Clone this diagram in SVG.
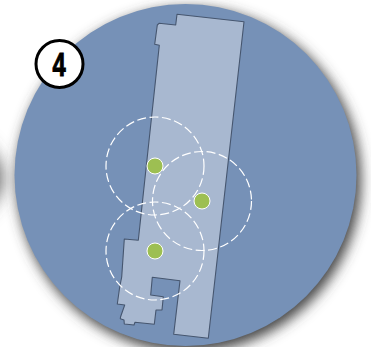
<svg xmlns="http://www.w3.org/2000/svg" width="371" height="347" viewBox="0 0 371 347">
<style>
.range{fill:none;stroke:#fff;stroke-width:1.2;stroke-dasharray:9 3.500}
.dot{fill:#9dbf52;stroke:#fff;stroke-width:1}
</style>
<defs>
<filter id="blur" x="-20%" y="-20%" width="140%" height="140%"><feGaussianBlur stdDeviation="6.500"/></filter>
<filter id="blur2" x="-100%" y="-30%" width="300%" height="160%"><feGaussianBlur stdDeviation="9"/></filter>
</defs>
<rect width="371" height="347" fill="#fff"/>
<ellipse cx="-165" cy="178" rx="167" ry="72" fill="#555" filter="url(#blur2)"/>
<circle cx="189" cy="180" r="172" fill="#444" filter="url(#blur)"/>
<circle cx="185.500" cy="175" r="171" fill="#7691b7"/>
<path d="M177 14.300L244 21.700L208.300 338.300L173.700 334.300L180 280.700L152.300 277.300L150.700 295L163.300 296.700L162 310L156 310L154.300 324.300L135 322.300L134 325L124.300 324L124 320L120.300 318.700L120.500 317L124.700 305L117.300 304L119.700 287L121.700 277L124.300 239L138.300 240.300L159.300 45.300L154.700 44.300L157.300 25L159 23.300L175.700 25Z" fill="#a8b8d0" stroke="#46566f" stroke-width="1.100" stroke-linejoin="round"/>
<circle class="range" cx="155" cy="166" r="49"/>
<circle class="range" cx="202" cy="201" r="49.500"/>
<circle class="range" cx="155" cy="251" r="49"/>
<circle class="dot" cx="155" cy="166" r="8"/>
<circle class="dot" cx="202" cy="201" r="8"/>
<circle class="dot" cx="155" cy="251" r="8"/>
<g id="badge">
<circle cx="59.500" cy="64" r="23.500" fill="#fff" stroke="#000" stroke-width="3"/>
<text transform="translate(59 75.500) scale(.72 1)" text-anchor="middle" font-family="'Liberation Sans',Arial,sans-serif" font-weight="700" font-size="33" fill="#000" stroke="#000" stroke-width="1">4</text>
</g>
</svg>
